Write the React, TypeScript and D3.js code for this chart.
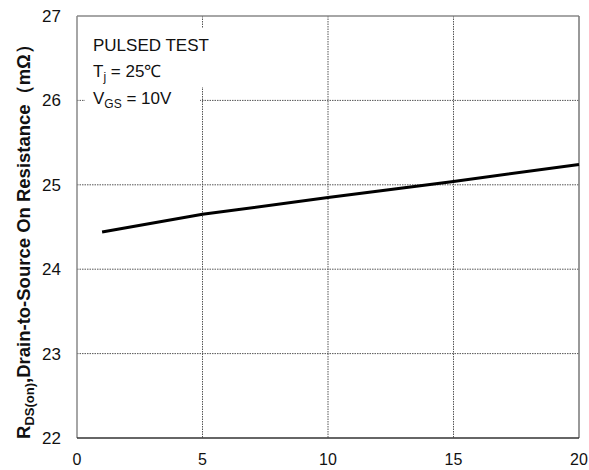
import React from "react";
import * as d3 from "d3";

const xTicks = [0, 5, 10, 15, 20];
const yTicks = [22, 23, 24, 25, 26, 27];
const vdsValues = [1, 5, 10, 15, 20];
const rdsValues = [24.44, 24.65, 24.85, 25.04, 25.24];

export default function App() {
  const W = 589, H = 470;
  const L = 77, R = 579, T = 16, B = 438;
  const x = d3.scaleLinear().domain([0, 20]).range([L, R]);
  const y = d3.scaleLinear().domain([22, 27]).range([B, T]);
  const line = d3.line<number>().x((_, i) => x(vdsValues[i])).y((d) => y(d));
  const font = "'Liberation Sans', Arial, sans-serif";
  return (
    <svg width={W} height={H} style={{ position: "absolute", left: 0, top: 0 }} fontFamily={font}>
      <rect width={W} height={H} fill="#fff" />
      {xTicks.slice(1, -1).map((t) => (
        <line key={"gx" + t} x1={x(t)} x2={x(t)} y1={T} y2={B} stroke="#555" strokeWidth={1} strokeDasharray="1.5,1" />
      ))}
      {yTicks.slice(1, -1).map((t) => (
        <line key={"gy" + t} x1={L} x2={R} y1={y(t)} y2={y(t)} stroke="#555" strokeWidth={1} strokeDasharray="1.5,1" />
      ))}
      <rect x={L + 8} y={28} width={150} height={59} fill="#fff" />
      <rect x={L + 8} y={86} width={115} height={24} fill="#fff" />
      <line x1={L} x2={R} y1={T} y2={T} stroke="#888" strokeWidth={1.5} />
      <line x1={R} x2={R} y1={T} y2={B} stroke="#777" strokeWidth={1.5} />
      <line x1={L} x2={L} y1={T} y2={B} stroke="#888" strokeWidth={1.5} />
      <line x1={L} x2={R} y1={B} y2={B} stroke="#333" strokeWidth={1.5} />
      <path d={line(rdsValues) || ""} fill="none" stroke="#000" strokeWidth={3} />
      {xTicks.map((t) => (
        <text key={"xt" + t} x={x(t)} y={465} textAnchor="middle" fontSize={16} fill="#111">{t}</text>
      ))}
      {yTicks.map((t) => (
        <text key={"yt" + t} x={61} y={y(t) + 6} textAnchor="end" fontSize={17} fill="#111">{t}</text>
      ))}
      <text x={93} y={51} fontSize={17} fill="#111">PULSED TEST</text>
      <text x={93} y={77} fontSize={17} fill="#111">T<tspan fontSize={12} dy={4}>j</tspan><tspan dy={-4}> = 25℃</tspan></text>
      <text x={93} y={104} fontSize={17} fill="#111">V<tspan fontSize={12} dy={4}>GS</tspan><tspan dy={-4}> = 10V</tspan></text>
      <text transform={`translate(30,${237}) rotate(-90)`} textAnchor="middle" fontSize={18.5} fontWeight="bold" fill="#111">
        R<tspan fontSize={13} dy={4}>DS(on)</tspan><tspan dy={-4}>,Drain-to-Source On Resistance（mΩ）</tspan>
      </text>
    </svg>
  );
}
